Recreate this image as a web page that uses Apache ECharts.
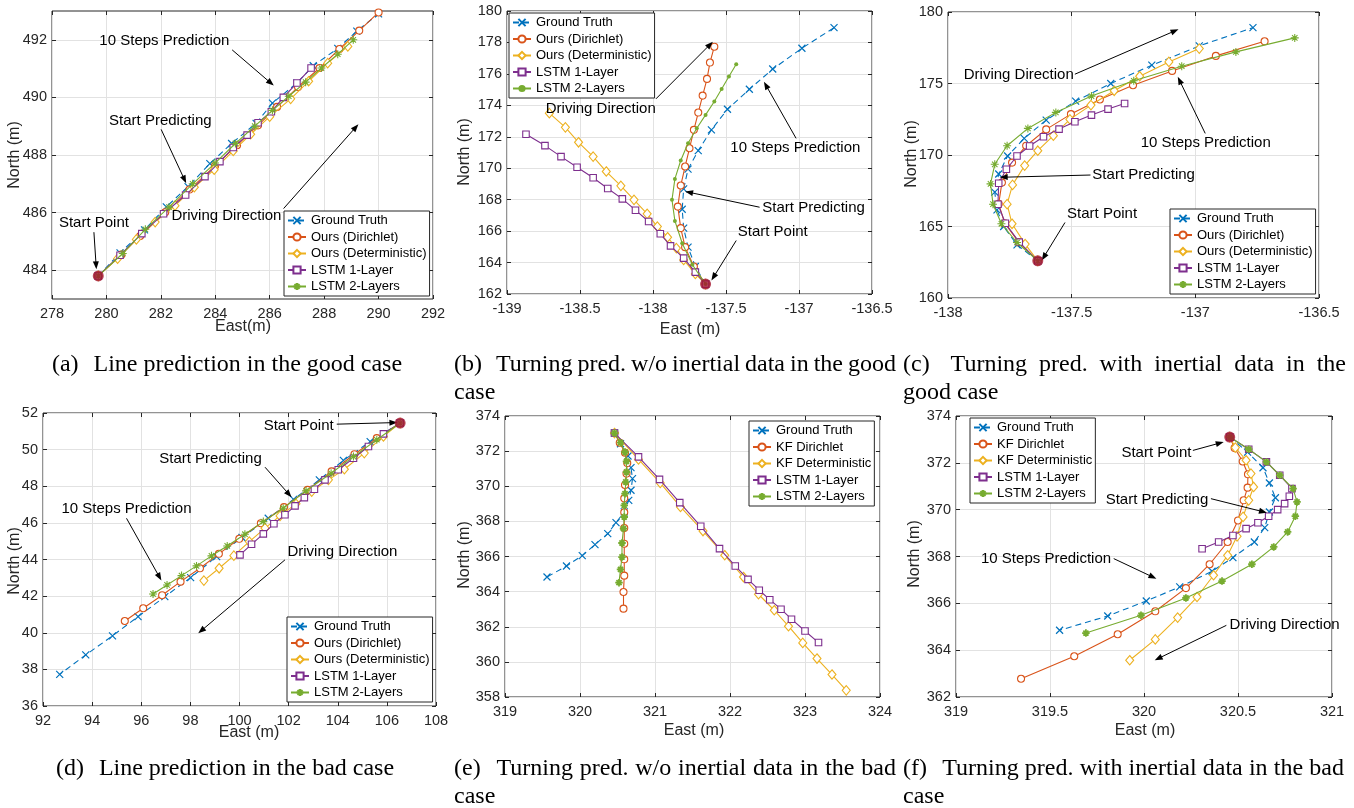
<!DOCTYPE html>
<html><head><meta charset="utf-8">
<script src="https://cdn.jsdelivr.net/npm/echarts@6/dist/echarts.min.js"></script>
<style>html,body{margin:0;padding:0;background:#fff}#c{width:1354px;height:808px}</style>
</head><body><div id="c"></div>
<script>
// ---------------- DATA ----------------
const namesOurs = ['Ground Truth','Ours (Dirichlet)','Ours (Deterministic)','LSTM 1-Layer','LSTM 2-Layers'];
const namesKF = ['Ground Truth','KF Dirichlet','KF Deterministic','LSTM 1-Layer','LSTM 2-Layers'];

// (a) line prediction, good case
const aStart = [279.7, 483.8];
const aGT  = [[279.7,483.8],[280.5,484.6],[281.4,485.4],[282.2,486.2],[283.0,486.9],[283.8,487.7],[284.6,488.4],[285.5,489.1],[286.1,489.8],[287.0,490.5],[287.6,491.1],[288.5,491.7],[289.2,492.3],[290.0,492.9]];
const aDir = [[279.7,483.8],[280.55,484.54],[281.24,485.19],[282.16,486.01],[283.05,486.8],[283.99,487.62],[284.8,488.34],[285.57,489.03],[286.27,489.67],[287.04,490.36],[287.83,491.02],[288.56,491.68],[289.29,492.32],[290.0,492.95]];
const aDet = [[279.7,483.8],[280.41,484.4],[281.1,485.07],[281.79,485.67],[282.52,486.24],[283.23,486.88],[283.96,487.49],[284.66,488.14],[285.3,488.72],[286.0,489.33],[286.77,489.95],[287.43,490.56],[288.13,491.19],[288.87,491.77]];
const aL1  = [[279.7,483.8],[280.5,484.52],[281.3,485.27],[282.1,485.96],[282.91,486.61],[283.62,487.25],[284.17,487.77],[284.66,488.26],[285.17,488.69],[285.57,489.12],[286.06,489.5],[286.5,490.0],[287.0,490.5],[287.52,491.02]];
const aL2  = [[279.7,483.8],[280.6,484.58],[281.43,485.42],[282.3,486.19],[283.17,487.0],[283.99,487.72],[284.74,488.4],[285.45,489.0],[286.1,489.55],[286.7,490.04],[287.32,490.53],[287.9,491.02],[288.5,491.5],[289.07,492.0]];
const aYTicks = [484,486,488,490,492];
const aNotes = [['10 Steps Prediction',282.13,491.97],['Start Predicting',281.98,489.2],['Driving Direction',284.41,485.9],['Start Point',279.54,485.65]];
const aArrows = [[284.62,491.65,286.15,490.41],[282.01,488.89,282.93,487.02],[286.51,486.14,289.26,489.07],[279.54,485.32,279.63,484.03]];

// (b) turning w/o inertial, good case
const bStart = [-137.64, 162.63];
const bGT  = [[-137.64,162.63],[-137.71,163.75],[-137.76,164.98],[-137.79,166.19],[-137.8,167.39],[-137.79,168.69],[-137.76,169.94],[-137.69,171.12],[-137.6,172.44],[-137.49,173.75],[-137.34,175.02],[-137.18,176.31],[-136.98,177.63],[-136.76,178.94]];
const bDir = [[-137.64,162.63],[-137.72,163.75],[-137.78,164.98],[-137.81,166.19],[-137.83,167.56],[-137.81,168.9],[-137.78,170.11],[-137.75,171.27],[-137.72,172.44],[-137.69,173.54],[-137.66,174.62],[-137.63,175.68],[-137.61,176.72],[-137.58,177.73]];
const bDet = [[-137.64,162.63],[-137.71,163.28],[-137.79,164.17],[-137.84,164.92],[-137.9,165.61],[-137.97,166.29],[-138.04,167.1],[-138.13,167.99],[-138.22,168.88],[-138.32,169.79],[-138.41,170.74],[-138.51,171.65],[-138.6,172.6],[-138.71,173.5]];
const bL1  = [[-137.64,162.63],[-137.71,163.39],[-137.79,164.28],[-137.88,165.06],[-137.95,165.83],[-138.03,166.61],[-138.12,167.33],[-138.21,168.05],[-138.31,168.71],[-138.41,169.39],[-138.52,170.06],[-138.63,170.74],[-138.74,171.44],[-138.87,172.16]];
const bL2  = [[-137.64,162.63],[-137.73,163.86],[-137.8,165.23],[-137.85,166.65],[-137.87,167.99],[-137.85,169.32],[-137.81,170.49],[-137.76,171.59],[-137.7,172.54],[-137.64,173.39],[-137.58,174.24],[-137.53,175.04],[-137.48,175.83],[-137.43,176.61]];
const bNotes = [['Driving Direction',-138.358,173.77],['10 Steps Prediction',-137.025,171.31],['Start Predicting',-136.9,167.46],['Start Point',-137.18,165.97]];
const bArrows = [[-137.98,174.41,-137.59,178.05],[-137.02,171.9,-137.24,175.5],[-137.27,167.52,-137.78,168.52],[-137.43,165.4,-137.6,162.86]];

// (c) turning with inertial, good case
const cStart = [-137.637, 162.6];
const cGT  = [[-137.637,162.6],[-137.721,163.72],[-137.775,165.0],[-137.802,166.16],[-137.811,167.4],[-137.795,168.67],[-137.759,169.93],[-137.692,171.16],[-137.603,172.44],[-137.484,173.77],[-137.342,175.0],[-137.176,176.28],[-136.984,177.63],[-136.767,178.91]];
const cDir = [[-137.637,162.6],[-137.714,163.91],[-137.771,165.23],[-137.795,166.58],[-137.782,168.07],[-137.741,169.47],[-137.684,170.65],[-137.603,171.79],[-137.503,172.86],[-137.386,173.88],[-137.252,174.88],[-137.094,175.88],[-136.917,176.93],[-136.72,177.95]];
const cDet = [[-137.637,162.6],[-137.688,163.77],[-137.741,165.19],[-137.761,166.56],[-137.739,167.91],[-137.69,169.26],[-137.637,170.3],[-137.574,171.35],[-137.507,172.49],[-137.422,173.49],[-137.328,174.49],[-137.225,175.51],[-137.107,176.51],[-136.984,177.44]];
const cL1  = [[-137.637,162.6],[-137.712,163.91],[-137.768,165.23],[-137.798,166.56],[-137.795,168.02],[-137.764,169.0],[-137.721,169.93],[-137.67,170.63],[-137.614,171.28],[-137.551,171.81],[-137.487,172.33],[-137.42,172.79],[-137.353,173.21],[-137.286,173.6]];
const cL2  = [[-137.637,162.6],[-137.721,163.88],[-137.784,165.19],[-137.818,166.56],[-137.828,167.98],[-137.811,169.35],[-137.761,170.65],[-137.677,171.86],[-137.564,172.98],[-137.42,174.12],[-137.249,175.19],[-137.055,176.21],[-136.836,177.21],[-136.598,178.19]];
const cNotes = [['Driving Direction',-137.714,175.58],['10 Steps Prediction',-136.958,170.86],['Start Predicting',-137.209,168.6],['Start Point',-137.377,165.88]];
const cArrows = [[-137.487,175.65,-137.068,178.79],[-136.96,171.51,-137.071,175.47],[-137.424,168.6,-137.791,168.44],[-137.527,165.28,-137.621,162.63]];

// (d) line prediction, bad case
const dStart = [106.54, 51.45];
const dGT  = [[106.54,51.45],[105.32,50.44],[104.23,49.41],[103.25,48.35],[102.2,47.28],[101.17,46.25],[100.1,45.2],[99.07,44.16],[98.01,43.01],[96.96,41.97],[95.87,40.88],[94.83,39.83],[93.74,38.79],[92.68,37.73]];
const dDir = [[106.54,51.45],[105.59,50.63],[104.68,49.75],[103.75,48.81],[102.77,47.8],[101.81,46.86],[100.87,45.98],[99.99,45.13],[99.16,44.31],[98.39,43.52],[97.6,42.79],[96.85,42.05],[96.08,41.34],[95.33,40.64]];
const dDet = [[106.54,51.45],[105.86,50.72],[105.08,49.81],[104.27,48.93],[103.62,48.35],[102.94,47.71],[102.3,47.04],[101.65,46.38],[101.04,45.71],[100.4,44.98],[99.77,44.21],[99.17,43.52],[98.55,42.85]];
const dL1  = [[106.54,51.45],[105.86,50.86],[105.25,50.17],[104.64,49.53],[104.02,48.9],[103.48,48.35],[103.05,47.84],[102.64,47.38],[102.26,46.93],[101.85,46.44],[101.4,45.95],[100.97,45.4],[100.49,44.83],[100.02,44.25]];
const dL2  = [[106.54,51.45],[105.59,50.54],[104.64,49.62],[103.73,48.71],[102.71,47.75],[101.78,46.8],[100.97,46.07],[100.22,45.38],[99.5,44.74],[98.86,44.2],[98.25,43.65],[97.64,43.12],[97.05,42.61],[96.48,42.12]];
const dNotes = [['Start Point',102.41,51.32],['Start Predicting',98.82,49.5],['10 Steps Prediction',95.4,46.77],['Driving Direction',104.19,44.4]];
const dArrows = [[103.96,51.39,106.43,51.48],[101.04,49.04,102.12,47.4],[95.4,46.25,96.82,42.85],[101.85,43.98,98.32,39.97]];

// (e) turning w/o inertial, bad case
const eGT  = [[320.46,373.03],[320.54,372.42],[320.64,371.72],[320.68,371.06],[320.7,370.43],[320.68,369.77],[320.65,369.2],[320.59,368.54],[320.48,367.93],[320.37,367.3],[320.2,366.68],[320.03,366.05],[319.82,365.46],[319.56,364.83]];
const eDir = [[320.46,373.03],[320.53,372.48],[320.6,371.91],[320.63,371.32],[320.62,370.72],[320.6,370.07],[320.59,369.31],[320.59,368.52],[320.59,367.62],[320.59,366.73],[320.59,365.84],[320.59,364.91],[320.58,363.98],[320.58,363.03]];
const eDet = [[320.46,373.03],[320.78,371.53],[321.07,370.19],[321.34,368.82],[321.64,367.45],[321.93,366.07],[322.18,364.83],[322.38,363.85],[322.59,362.94],[322.78,362.03],[322.97,361.08],[323.16,360.19],[323.36,359.28],[323.55,358.38]];
const eL1  = [[320.46,373.03],[320.78,371.67],[321.06,370.39],[321.33,369.07],[321.61,367.72],[321.86,366.45],[322.07,365.46],[322.24,364.7],[322.39,364.08],[322.53,363.54],[322.68,363.0],[322.82,362.43],[323.0,361.76],[323.18,361.1]];
const eL2  = [[320.46,373.03],[320.54,372.48],[320.6,371.95],[320.62,371.42],[320.62,370.81],[320.61,370.24],[320.6,369.58],[320.59,368.91],[320.59,368.25],[320.58,367.59],[320.56,366.77],[320.56,365.97],[320.54,365.27],[320.52,364.51]];

// (f) turning with inertial, bad case
const fStart = [320.456, 373.1];
const fGT  = [[320.456,373.1],[320.551,372.46],[320.633,371.79],[320.667,371.14],[320.699,370.51],[320.667,369.9],[320.642,369.23],[320.587,368.62],[320.473,367.95],[320.362,367.37],[320.19,366.7],[320.012,366.1],[319.807,365.46],[319.551,364.85]];
const fDir = [[320.456,373.1],[320.482,372.63],[320.525,372.06],[320.553,371.51],[320.551,370.94],[320.53,370.4],[320.5,369.54],[320.445,368.62],[320.349,367.67],[320.223,366.65],[320.06,365.66],[319.86,364.68],[319.629,363.74],[319.346,362.78]];
const fDet = [[320.456,373.1],[320.486,372.65],[320.543,372.11],[320.569,371.54],[320.583,370.97],[320.557,370.4],[320.527,369.69],[320.495,368.86],[320.445,368.05],[320.37,367.2],[320.282,366.27],[320.179,365.39],[320.06,364.46],[319.924,363.57]];
const fL1  = [[320.456,373.1],[320.557,372.58],[320.651,372.04],[320.722,371.47],[320.787,370.9],[320.773,370.57],[320.748,370.26],[320.711,370.0],[320.663,369.72],[320.606,369.44],[320.543,369.19],[320.473,368.9],[320.397,368.62],[320.309,368.33]];
const fL2  = [[320.456,373.1],[320.557,372.58],[320.651,372.04],[320.722,371.47],[320.793,370.9],[320.814,370.33],[320.805,369.72],[320.764,369.05],[320.69,368.41],[320.574,367.67],[320.415,366.95],[320.223,366.23],[319.984,365.49],[319.691,364.73]];
const fNotes = [['Start Point',320.066,372.42],['Start Predicting',320.069,370.43],['10 Steps Prediction',319.479,367.91],['Driving Direction',320.748,365.06]];
const fArrows = [[320.26,372.53,320.424,372.89],[320.356,370.47,320.654,369.87],[319.839,367.91,320.066,367.05],[320.438,365.06,320.057,363.57]];

// ---------------- LAYOUT / STYLE ----------------
const SANS = '"Liberation Sans", Arial, Helvetica, sans-serif';
const SERIF = '"Liberation Serif", "Times New Roman", serif';
const INK = '#262626';
const COL = ['#0072BD','#D95319','#EDB120','#7E2F8E','#77AC30'];
const RED = '#A2142F';
const SYM_X = 'path://M0,0L10,10M10,0L0,10';
const SYM_STAR = 'path://M5,0L5,10M0,5L10,5M1.6,1.6L8.4,8.4M8.4,1.6L1.6,8.4';

const panels = [
  {k:'a', data:[aGT,aDir,aDet,aL1,aL2], start:aStart, names:namesOurs, l2:'star',
   grid:{left:52,top:11,width:381,height:288}, x:{min:278,max:292,interval:2}, y:{min:483,max:493,ticks:aYTicks},
   legend:{left:284,top:211}, notes:aNotes, arrows:aArrows, xt:{t:'East(m)',x:243,y:327}, yt:{x:15,y:155}},
  {k:'b', data:[bGT,bDir,bDet,bL1,bL2], start:bStart, names:namesOurs, l2:'dot',
   grid:{left:507,top:11,width:365,height:283}, x:{min:-139,max:-136.5,interval:0.5}, y:{min:162,max:180,interval:2},
   legend:{left:509,top:13}, notes:bNotes, arrows:bArrows, xt:{t:'East (m)',x:690,y:330}, yt:{x:465,y:152}},
  {k:'c', data:[cGT,cDir,cDet,cL1,cL2], start:cStart, names:namesOurs, l2:'star',
   grid:{left:948,top:12,width:371,height:286}, x:{min:-138,max:-136.5,interval:0.5}, y:{min:160,max:180,interval:5},
   legend:{left:1170,top:209}, notes:cNotes, arrows:cArrows, xt:null, yt:{x:912,y:154}},
  {k:'d', data:[dGT,dDir,dDet,dL1,dL2], start:dStart, names:namesOurs, l2:'star',
   grid:{left:43,top:413,width:393,height:293}, x:{min:92,max:108,interval:2}, y:{min:36,max:52,interval:2},
   legend:{left:287,top:617}, notes:dNotes, arrows:dArrows, xt:{t:'East (m)',x:249,y:733}, yt:{x:15,y:561}},
  {k:'e', data:[eGT,eDir,eDet,eL1,eL2], start:null, names:namesKF, l2:'star',
   grid:{left:505,top:416,width:375,height:281}, x:{min:319,max:324,interval:1}, y:{min:358,max:374,interval:2},
   legend:{left:749,top:421}, notes:[], arrows:[], xt:{t:'East (m)',x:694,y:731}, yt:{x:465,y:555}},
  {k:'f', data:[fGT,fDir,fDet,fL1,fL2], start:fStart, names:namesKF, l2:'star',
   grid:{left:956,top:416,width:376,height:281}, x:{min:319,max:321,interval:0.5}, y:{min:362,max:374,interval:2},
   legend:{left:970,top:418}, notes:fNotes, arrows:fArrows, xt:{t:'East (m)',x:1145,y:731}, yt:{x:915,y:554}}
];

const captions = [
  {label:'(a)', center:true, text:'Line prediction in the good case', cx:227, y:365},
  {label:'(b)', line1:'Turning pred. w/o inertial data in the good', line2:'case', x0:454, x1:896, y:365},
  {label:'(c)', line1:'Turning pred. with inertial data in the', line2:'good case', x0:903, x1:1346, y:365},
  {label:'(d)', center:true, text:'Line prediction in the bad case', cx:225, y:769},
  {label:'(e)', line1:'Turning pred. w/o inertial data in the bad', line2:'case', x0:454, x1:896, y:769},
  {label:'(f)', line1:'Turning pred. with inertial data in the bad', line2:'case', x0:903, x1:1344, y:769}
];

// ---------------- BUILD ----------------
const grids = [], xAxes = [], yAxes = [], series = [], legends = [], graphics = [];

function axisCfg(spec, gi, pos, primary) {
  const ax = {
    type:'value', gridIndex:gi, position:pos, min:spec.min, max:spec.max,
    axisLine:{show:false},
    axisTick:{show:true, inside:true, length:4, lineStyle:{color:INK, width:1}},
    axisLabel:{show:primary, color:INK, fontSize:14.5, fontFamily:SANS, margin:(pos==='left'?5:7)},
    splitLine:{show:primary, lineStyle:{color:'#e2e2e2', width:1}}
  };
  if (spec.ticks) { ax.axisTick.customValues = spec.ticks; ax.axisLabel.customValues = spec.ticks; }
  else ax.interval = spec.interval;
  return ax;
}

function renderArrow(params, api) {
  const a = api.coord([api.value(0), api.value(1)]);
  const b = api.coord([api.value(2), api.value(3)]);
  const dx = b[0] - a[0], dy = b[1] - a[1];
  const L = Math.sqrt(dx * dx + dy * dy) || 1;
  const ux = dx / L, uy = dy / L;
  const hl = 8, hw = 3;
  const bx = b[0] - ux * hl, by = b[1] - uy * hl;
  return {
    type:'group', children:[
      {type:'line', shape:{x1:a[0], y1:a[1], x2:bx + ux * 1, y2:by + uy * 1}, style:{stroke:'#000', lineWidth:1}},
      {type:'polygon', shape:{points:[[b[0], b[1]], [bx - uy * hw, by + ux * hw], [bx + uy * hw, by - ux * hw]]}, style:{fill:'#000'}}
    ]
  };
}

panels.forEach((p, i) => {
  grids.push(Object.assign({show:true, borderColor:INK, borderWidth:1, backgroundColor:'#fff', containLabel:false, outerBoundsMode:'none'}, p.grid));
  xAxes[i] = axisCfg(p.x, i, 'bottom', true);
  yAxes[i] = axisCfg(p.y, i, 'left', true);
  xAxes[6+i] = axisCfg(p.x, i, 'top', false);
  yAxes[6+i] = axisCfg(p.y, i, 'right', false);

  const sNames = p.names.map(n => n + '|' + p.k);
  const styles = [
    {symbol:SYM_X, size:7, item:{color:COL[0], borderColor:COL[0], borderWidth:1.2}, line:{color:COL[0], width:1.1, type:[6,4]}},
    {symbol:'circle', size:7, item:{color:'#fff', borderColor:COL[1], borderWidth:1.1}, line:{color:COL[1], width:1.1}},
    {symbol:'diamond', size:[8,9.5], item:{color:'#fff', borderColor:COL[2], borderWidth:1.1}, line:{color:COL[2], width:1.1}},
    {symbol:'rect', size:6.5, item:{color:'#fff', borderColor:COL[3], borderWidth:1.1}, line:{color:COL[3], width:1.1}},
    p.l2 === 'dot'
      ? {symbol:'circle', size:4, item:{color:COL[4], borderColor:COL[4], borderWidth:0}, line:{color:COL[4], width:1.1}}
      : {symbol:SYM_STAR, size:(p.k==='e'||p.k==='f')?7.5:8, item:{color:COL[4], borderColor:COL[4], borderWidth:(p.k==='e'||p.k==='f')?1.8:1.1}, line:{color:COL[4], width:1.1}}
  ];
  p.data.forEach((d, j) => {
    const st = styles[j];
    const s = {
      type:'line', name:sNames[j], xAxisIndex:i, yAxisIndex:i, data:d,
      symbol:st.symbol, symbolSize:st.size, showSymbol:true, showAllSymbol:true,
      itemStyle:st.item, lineStyle:st.line, emphasis:{disabled:true}, silent:true, z:2+j*0.1, animation:false
    };
    if (j === 4 && p.notes.length) {
      s.markPoint = {
        silent:true, animation:false, symbol:'rect', symbolSize:1, itemStyle:{color:'rgba(0,0,0,0)'},
        label:{show:true, position:'inside', formatter:'{b}', color:'#000', fontSize:15, fontFamily:SANS},
        data:p.notes.map(n => ({name:n[0], coord:[n[1],n[2]]}))
      };
    }
    series.push(s);
  });
  if (p.arrows.length) {
    series.push({type:'custom', name:'arrows|'+p.k, xAxisIndex:i, yAxisIndex:i, data:p.arrows,
      dimensions:['x1','y1','x2','y2'], encode:{x:[0,2], y:[1,3]},
      renderItem:renderArrow, silent:true, z:5, animation:false, clip:false});
  }
  if (p.start) {
    series.push({type:'scatter', name:'start|'+p.k, xAxisIndex:i, yAxisIndex:i, data:[p.start],
      symbol:'circle', symbolSize:11, itemStyle:{color:RED}, silent:true, z:6, animation:false});
  }
  legends.push({
    show:true, orient:'vertical', left:p.legend.left, top:p.legend.top, data:sNames,
    itemWidth:18, itemHeight:9, itemGap:3.5, padding:[3,3,3,3], selectedMode:false,
    backgroundColor:'#fff', borderColor:INK, borderWidth:1, borderRadius:0,
    textStyle:{fontSize:13, fontFamily:SANS, color:'#000'},
    formatter:n => n.split('|')[0], z:8
  });
  if (p.xt) graphics.push({type:'text', x:p.xt.x, y:p.xt.y, style:{text:p.xt.t, font:'16px ' + SANS, fill:INK, textAlign:'center', textVerticalAlign:'middle'}});
  if (p.yt) graphics.push({type:'text', x:p.yt.x, y:p.yt.y, rotation:Math.PI/2, style:{text:'North (m)', font:'16px ' + SANS, fill:INK, textAlign:'center', textVerticalAlign:'middle'}});
});

// captions (justified text layout)
const CAP_FONT = '24px ' + SERIF;
const mctx = document.createElement('canvas').getContext('2d');
mctx.font = CAP_FONT;
const tw = t => mctx.measureText(t).width;
function word(t, x, y) {
  graphics.push({type:'text', x:x, y:y, style:{text:t, font:CAP_FONT, fill:'#000', textAlign:'left', textVerticalAlign:'middle'}});
}
const LABEL_EXTRA = 9;
captions.forEach(c => {
  if (c.center) {
    const sp = tw(' ');
    const total = tw(c.label) + sp + LABEL_EXTRA + tw(c.text);
    let x = c.cx - total / 2;
    word(c.label, x, c.y);
    x += tw(c.label) + sp + LABEL_EXTRA;
    word(c.text, x, c.y);
  } else {
    const words = [c.label].concat(c.line1.split(' '));
    const W = words.reduce((s, w) => s + tw(w), 0);
    const gap = (c.x1 - c.x0 - W - LABEL_EXTRA) / (words.length - 1);
    let x = c.x0;
    words.forEach((w, k) => {
      word(w, x, c.y);
      x += tw(w) + gap + (k === 0 ? LABEL_EXTRA : 0);
    });
    word(c.line2, c.x0, c.y + 28);
  }
});

const chart = echarts.init(document.getElementById('c'), null, {renderer:'canvas'});
chart.setOption({
  animation:false,
  backgroundColor:'#fff',
  grid:grids, xAxis:xAxes, yAxis:yAxes, series:series, legend:legends,
  graphic:{elements:graphics}
});
</script></body></html>
